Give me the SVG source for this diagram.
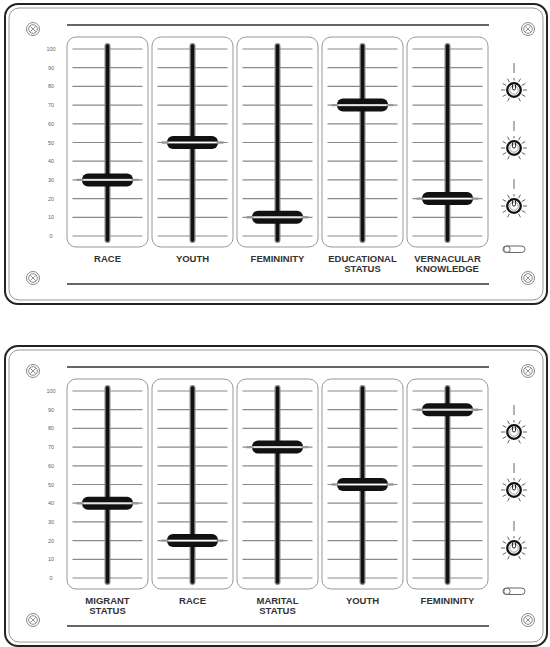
<svg xmlns="http://www.w3.org/2000/svg" xmlns:xlink="http://www.w3.org/1999/xlink" width="550" height="647" viewBox="0 0 550 647">
<style>
.frameOut{fill:#fff;stroke:#222;stroke-width:2}
.frameIn{fill:none;stroke:#999;stroke-width:1}
.rule{stroke:#333;stroke-width:1.5}
.chan{fill:#fff;stroke:#999;stroke-width:1}
.tick{stroke:#8a8a8a;stroke-width:1.2}
.trackO{stroke:#888;stroke-width:6;stroke-linecap:round}
.trackI{stroke:#111;stroke-width:3.5;stroke-linecap:round}
.cap{fill:#111}
.capLineO{stroke:#999;stroke-width:2.4}
.capLineI{stroke:#fff;stroke-width:1.1}
.scale{font-family:"Liberation Sans",Arial,sans-serif;font-size:5.5px;fill:#666;text-anchor:middle}
.lbl{font-family:"Liberation Sans",Arial,sans-serif;font-size:9.5px;font-weight:bold;fill:#333;text-anchor:middle}
.screw{fill:#fff;stroke:#888;stroke-width:1}
.ray{stroke:#666;stroke-width:1}
.dialO{fill:#fff;stroke:#111;stroke-width:2.3}
.dialI{fill:none;stroke:#888;stroke-width:0.8}
</style>
<defs>
<g id="chanBase">
<rect class="chan" x="-40.5" y="37" width="81" height="210" rx="9"/>
<g class="tick">
<line x1="-35" y1="49" x2="35" y2="49"/>
<line x1="-35" y1="67.7" x2="35" y2="67.7"/>
<line x1="-35" y1="86.4" x2="35" y2="86.4"/>
<line x1="-35" y1="105.1" x2="35" y2="105.1"/>
<line x1="-35" y1="123.8" x2="35" y2="123.8"/>
<line x1="-35" y1="142.5" x2="35" y2="142.5"/>
<line x1="-35" y1="161.2" x2="35" y2="161.2"/>
<line x1="-35" y1="179.9" x2="35" y2="179.9"/>
<line x1="-35" y1="198.6" x2="35" y2="198.6"/>
<line x1="-35" y1="217.3" x2="35" y2="217.3"/>
<line x1="-35" y1="236" x2="35" y2="236"/>
</g>
<line class="trackO" x1="0" y1="46" x2="0" y2="240"/>
<line class="trackI" x1="0" y1="46" x2="0" y2="240"/>
</g>
<g id="capKnob">
<rect class="cap" x="-25.5" y="-6.5" width="51" height="13" rx="6"/>
<line class="capLineO" x1="-31" y1="0" x2="31" y2="0"/>
<line class="capLineI" x1="-24" y1="0" x2="24" y2="0"/>
</g>
<g id="screw">
<circle class="screw" r="6.5"/>
<circle class="screw" r="4.3"/>
<path d="M-2.6,-2.6 L2.6,2.6 M2.6,-2.6 L-2.6,2.6" stroke="#888" stroke-width="0.9"/>
</g>
<g id="dial">
<line class="ray" x1="0" y1="-27" x2="0" y2="-17"/>
<g class="ray">
<line x1="4.5" y1="-7.8" x2="6.5" y2="-11.3"/>
<line x1="7.8" y1="-4.5" x2="11.3" y2="-6.5"/>
<line x1="9" y1="0" x2="13" y2="0"/>
<line x1="7.8" y1="4.5" x2="11.3" y2="6.5"/>
<line x1="4.5" y1="7.8" x2="6.5" y2="11.3"/>
<line x1="-4.5" y1="-7.8" x2="-6.5" y2="-11.3"/>
<line x1="-7.8" y1="-4.5" x2="-11.3" y2="-6.5"/>
<line x1="-9" y1="0" x2="-13" y2="0"/>
<line x1="-7.8" y1="4.5" x2="-11.3" y2="6.5"/>
<line x1="-4.5" y1="7.8" x2="-6.5" y2="11.3"/>
<line x1="0" y1="-9.5" x2="0" y2="-12"/>
</g>
<circle class="dialO" r="6.8"/>
<circle class="dialI" r="4.2"/>
<path d="M-1.5,-5.5 L-1.5,-1.5 A1.5,1.5 0 0 0 1.5,-1.5 L1.5,-5.5" fill="none" stroke="#111" stroke-width="0.9"/>
</g>
<g id="toggle">
<rect x="503" y="246" width="22" height="6.5" rx="3.25" fill="#fff" stroke="#666" stroke-width="1"/>
<circle cx="507" cy="249.25" r="3.2" fill="#fff" stroke="#666" stroke-width="1"/>
</g>
<g id="scaleNums">
<text class="scale" x="51" y="51">100</text>
<text class="scale" x="51" y="69.7">90</text>
<text class="scale" x="51" y="88.4">80</text>
<text class="scale" x="51" y="107.1">70</text>
<text class="scale" x="51" y="125.8">60</text>
<text class="scale" x="51" y="144.5">50</text>
<text class="scale" x="51" y="163.2">40</text>
<text class="scale" x="51" y="181.9">30</text>
<text class="scale" x="51" y="200.6">20</text>
<text class="scale" x="51" y="219.3">10</text>
<text class="scale" x="51" y="238">0</text>
</g>
<g id="panelBase">
<rect class="frameOut" x="5" y="4" width="542" height="300" rx="13"/>
<rect class="frameIn" x="9" y="8" width="534" height="292" rx="10"/>
<line class="rule" x1="67" y1="25" x2="489" y2="25"/>
<line class="rule" x1="67" y1="284" x2="489" y2="284"/>
<use xlink:href="#screw" x="33" y="29"/>
<use xlink:href="#screw" x="528" y="29"/>
<use xlink:href="#screw" x="33" y="278"/>
<use xlink:href="#screw" x="528" y="278"/>
<use xlink:href="#scaleNums"/>
<use xlink:href="#dial" x="514" y="90"/>
<use xlink:href="#dial" x="514" y="148"/>
<use xlink:href="#dial" x="514" y="206"/>
<use xlink:href="#toggle"/>
</g>
</defs>

<g id="panel1">
<use xlink:href="#panelBase"/>
<g id="p1-race" transform="translate(107.5,0)">
<use xlink:href="#chanBase"/>
<use xlink:href="#capKnob" y="179.9"/>
<text class="lbl" y="261.5">RACE</text>
</g>
<g id="p1-youth" transform="translate(192.5,0)">
<use xlink:href="#chanBase"/>
<use xlink:href="#capKnob" y="142.5"/>
<text class="lbl" y="261.5">YOUTH</text>
</g>
<g id="p1-femininity" transform="translate(277.5,0)">
<use xlink:href="#chanBase"/>
<use xlink:href="#capKnob" y="217.3"/>
<text class="lbl" y="261.5">FEMININITY</text>
</g>
<g id="p1-educational" transform="translate(362.5,0)">
<use xlink:href="#chanBase"/>
<use xlink:href="#capKnob" y="105.1"/>
<text class="lbl" y="261.5">EDUCATIONAL</text>
<text class="lbl" y="271.5">STATUS</text>
</g>
<g id="p1-vernacular" transform="translate(447.5,0)">
<use xlink:href="#chanBase"/>
<use xlink:href="#capKnob" y="198.6"/>
<text class="lbl" y="261.5">VERNACULAR</text>
<text class="lbl" y="271.5">KNOWLEDGE</text>
</g>
</g>

<g id="panel2" transform="translate(0,342)">
<use xlink:href="#panelBase"/>
<g id="p2-migrant" transform="translate(107.5,0)">
<use xlink:href="#chanBase"/>
<use xlink:href="#capKnob" y="161.2"/>
<text class="lbl" y="261.5">MIGRANT</text>
<text class="lbl" y="271.5">STATUS</text>
</g>
<g id="p2-race" transform="translate(192.5,0)">
<use xlink:href="#chanBase"/>
<use xlink:href="#capKnob" y="198.6"/>
<text class="lbl" y="261.5">RACE</text>
</g>
<g id="p2-marital" transform="translate(277.5,0)">
<use xlink:href="#chanBase"/>
<use xlink:href="#capKnob" y="105.1"/>
<text class="lbl" y="261.5">MARITAL</text>
<text class="lbl" y="271.5">STATUS</text>
</g>
<g id="p2-youth" transform="translate(362.5,0)">
<use xlink:href="#chanBase"/>
<use xlink:href="#capKnob" y="142.5"/>
<text class="lbl" y="261.5">YOUTH</text>
</g>
<g id="p2-femininity" transform="translate(447.5,0)">
<use xlink:href="#chanBase"/>
<use xlink:href="#capKnob" y="67.7"/>
<text class="lbl" y="261.5">FEMININITY</text>
</g>
</g>
<g id="connectors"/>
</svg>
